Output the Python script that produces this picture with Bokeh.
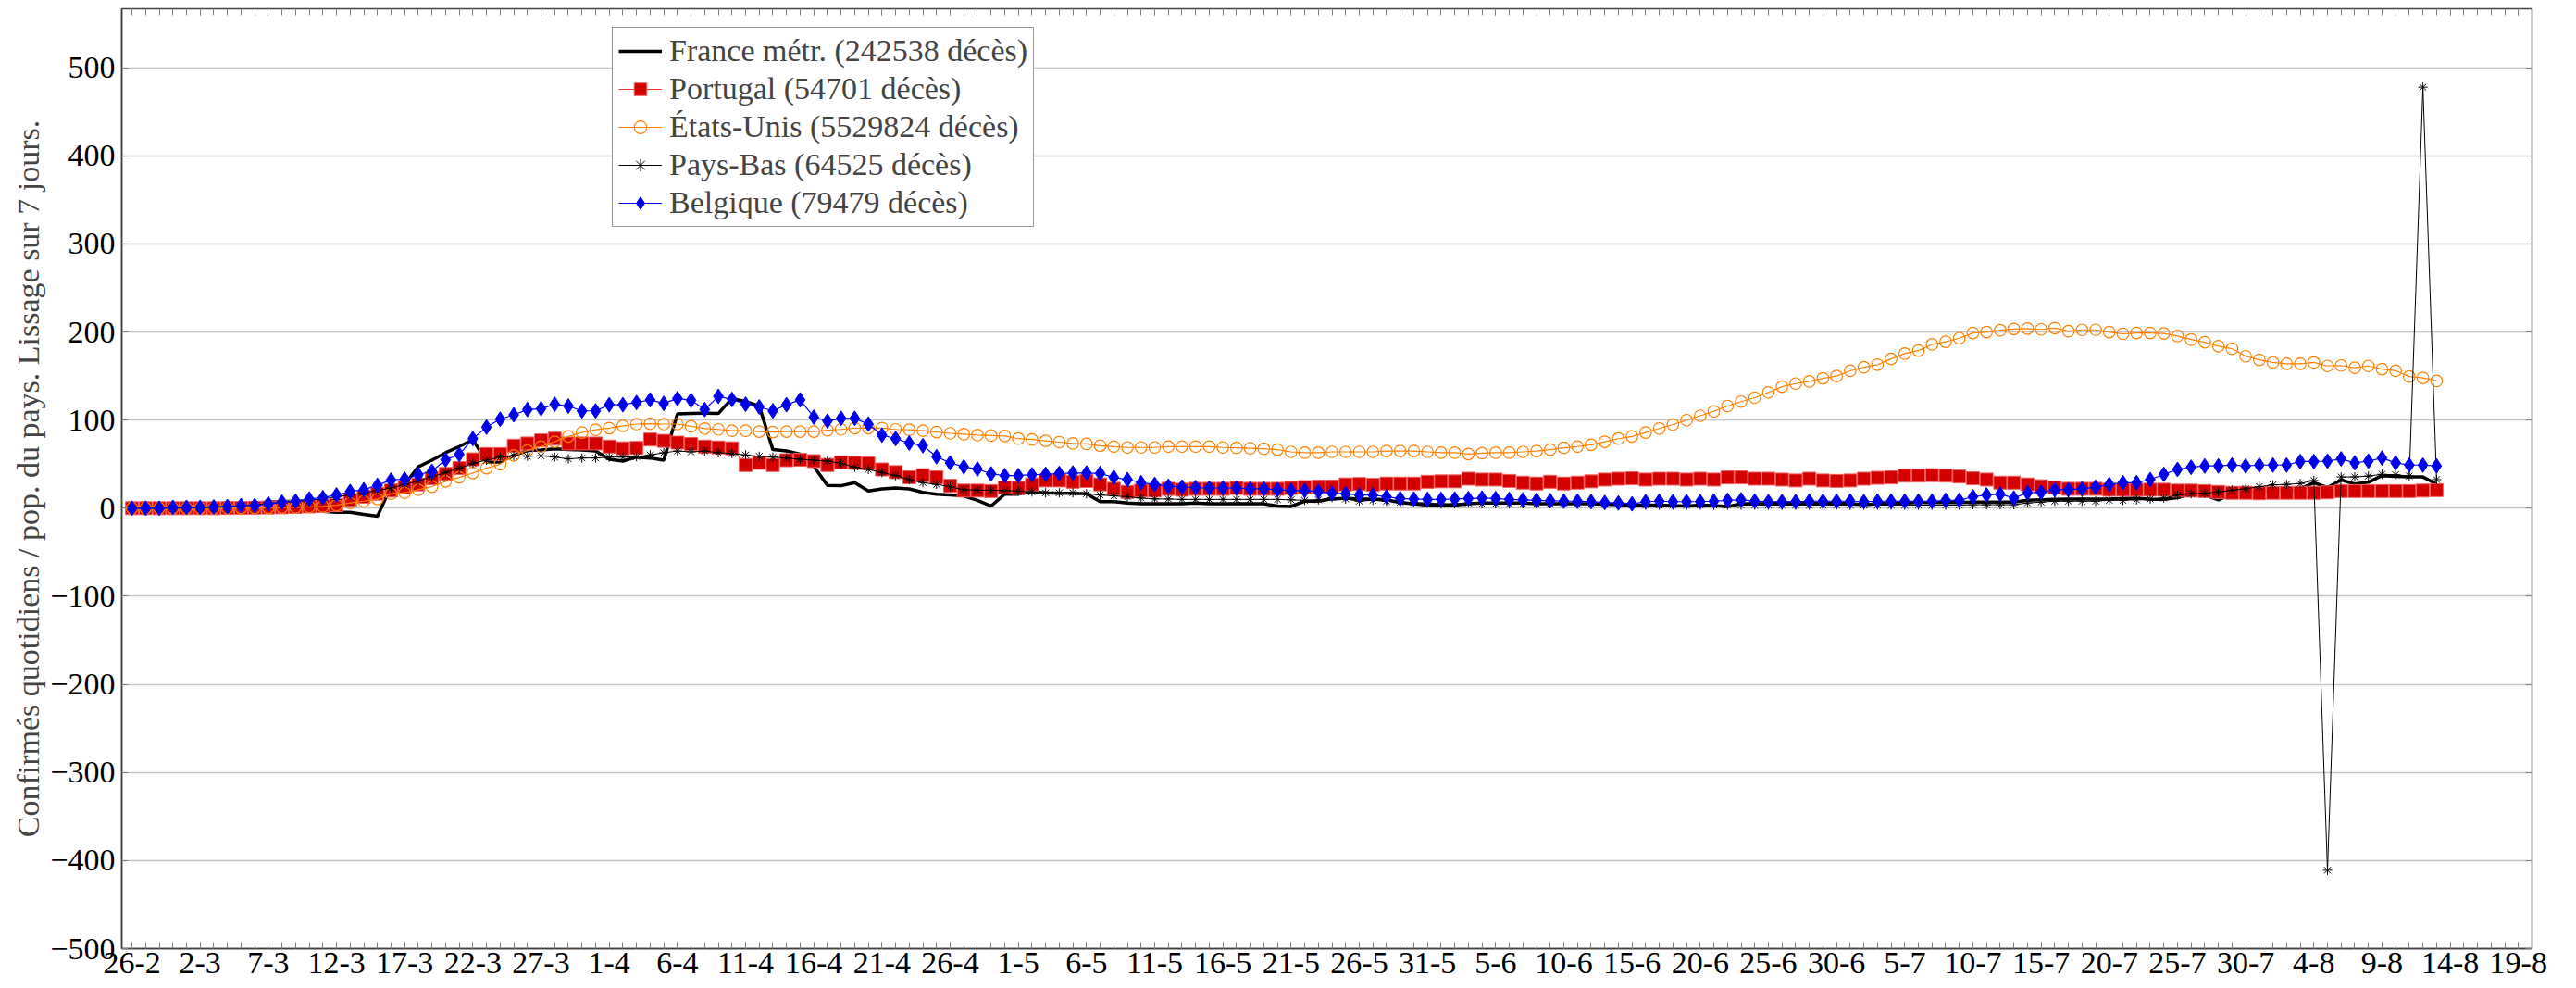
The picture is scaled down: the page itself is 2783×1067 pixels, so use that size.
from bokeh.plotting import figure
from bokeh.models import FixedTicker, LinearAxis, Legend, LegendItem, Range1d
from bokeh.embed import file_html
from bokeh.resources import INLINE

# ---- data (day index 0 = 26-2, daily until 13-8) ----
days = list(range(170))

x_tick_days = list(range(0, 176, 5))
x_tick_labels = ["26-2", "2-3", "7-3", "12-3", "17-3", "22-3", "27-3", "1-4", "6-4", "11-4",
                 "16-4", "21-4", "26-4", "1-5", "6-5", "11-5", "16-5", "21-5", "26-5", "31-5",
                 "5-6", "10-6", "15-6", "20-6", "25-6", "30-6", "5-7", "10-7", "15-7", "20-7",
                 "25-7", "30-7", "4-8", "9-8", "14-8", "19-8"]
y_ticks = [-500, -400, -300, -200, -100, 0, 100, 200, 300, 400, 500]
y_tick_labels = ["\u2212500", "\u2212400", "\u2212300", "\u2212200", "\u2212100", "0",
                 "100", "200", "300", "400", "500"]

france = [0, 0, 0.1, 0.2, 0.3, 0.5, 1, 1.5, 3, 5,
          7, 7.5, 8, 8, -3.5, -4.5, -4.5, -7, -9, 24.5,
          27, 47, 54.5, 63, 70, 78, 52.5, 52.5, 60, 65.5,
          66, 67.5, 66.5, 66, 65, 55.5, 53.5, 58, 57, 54.5,
          107, 107.5, 108, 107.5, 124.5, 121, 116, 66.5, 65, 61.5,
          47.5, 26, 25.5, 29, 19.5, 22, 23, 22, 18, 16,
          15, 14, 9, 2.5, 16, 16, 18.5, 17.5, 17, 17,
          16.5, 7.5, 7.5, 6, 5, 5, 5, 5, 6, 5,
          5, 5, 5, 5, 2.5, 2, 8, 8, 10.5, 11.5,
          10.5, 10.5, 9.5, 6.5, 5, 3.5, 3.5, 3.5, 5, 6,
          6, 6, 6, 5, 5, 5, 5, 5, 4.5, 4,
          3.5, 3.5, 3.5, 3, 2.5, 3.5, 3, 2, 5, 5,
          5, 6, 6, 6, 6, 6, 5, 4, 5, 6,
          6, 6.5, 6.5, 6.5, 6.5, 7, 7, 7, 7, 9,
          9.5, 10, 10.5, 10.5, 10.5, 10.5, 11, 11.5, 10, 10,
          12, 16, 15, 9.5, 16, 17.5, 18.5, 20, 21, 22,
          29, 23.5, 32, 27.5, 29.5, 37, 36, 35.5, 35.5, 27.5]

portugal = [0, 0, 0, 0, 0, 0, 0, 0.2, 0.3, 0.5,
            0.8, 1, 1.5, 2, 2.5, 3.5, 9.5, 13, 16.5, 20,
            23.5, 27, 34, 39, 45.5, 55.5, 61.5, 61.5, 71, 73.5,
            77, 79, 73.5, 73.5, 73.5, 70, 68, 68.5, 78, 76.5,
            74.5, 73, 70, 69, 68, 49, 51.5, 49, 54.5, 55,
            53.5, 49, 52, 51.5, 51, 44, 41, 35, 37.5, 35,
            25.5, 20, 20, 19.5, 23.5, 23, 27, 31.5, 31.5, 30,
            31, 27, 22, 18.5, 20, 20, 22, 21, 22, 22,
            22, 23, 22, 22, 22, 23, 24, 24.5, 24.5, 27,
            27.5, 26.5, 28, 28, 28, 30, 30.5, 30.5, 33.5, 32.5,
            32.5, 31, 29, 28, 30, 28, 29, 30.5, 32.5, 33.5,
            34, 32.5, 33.5, 33.5, 32.5, 33.5, 32.5, 35, 35, 33.5,
            33.5, 32.5, 31.5, 33.5, 31.5, 31, 31.5, 33.5, 34.5, 35,
            37, 37, 37.5, 37, 36, 34, 32.5, 29, 29, 27,
            25, 23.5, 22, 22, 22, 21, 21, 21, 21, 21,
            20, 20, 19.5, 18.5, 17.5, 17.5, 17, 17.5, 17.5, 17.5,
            17.5, 18, 19.5, 19.5, 19.5, 19.5, 19.5, 19.5, 20, 20.5]

usa = [0, 0, 0, 0, 0, 0, 0.1, 0.2, 0.3, 0.4,
       0.6, 0.8, 1, 1.5, 2, 3.5, 6, 8, 10.5, 16.5,
       17.5, 21, 24.5, 30.5, 35, 40, 45.5, 50, 60, 65.5,
       70, 75.5, 81.5, 86, 89, 91, 93.5, 95.5, 96, 95.5,
       95.5, 93, 90.5, 89.5, 88, 88, 87, 86.5, 87, 87,
       87, 88.5, 89.5, 91, 91, 91, 89.5, 89, 88, 86.5,
       85, 84, 83, 82.5, 82, 79, 78, 76.5, 75, 73.5,
       73, 71, 70, 69, 69, 69, 70, 70, 70, 70,
       69, 68.5, 68, 67.5, 66.5, 64, 63, 63, 64, 64,
       64, 64, 65, 65, 65, 64, 63, 63, 61.5, 62.5,
       63, 63, 64, 65, 66.5, 68.5, 70, 72, 75.5, 79,
       81.5, 86, 90.5, 95, 100, 105, 110, 116, 121, 125.5,
       131.5, 138, 141.5, 144, 147.5, 150, 156, 160, 163, 169.5,
       175.5, 179, 186, 189, 193, 199, 200, 202, 203.5, 204,
       203, 204.5, 201, 202.5, 202.5, 200, 198, 199, 199, 198.5,
       195.5, 191.5, 188.5, 184, 181, 172.5, 168.5, 165.5, 164, 164,
       165.5, 161.5, 162, 159.5, 161.5, 158, 156, 149.5, 148, 144.5]

paysbas = [0, 0, 0, 0, 0.2, 0.5, 1, 1.5, 2.5, 4,
           5, 7, 7.5, 9, 10.5, 13, 15, 17.5, 20, 23,
           27, 31, 36, 40.5, 45.5, 51, 54.5, 58, 59.5, 59,
           59.5, 58, 56, 57, 57, 58, 58, 58.5, 60.5, 63,
           65, 64, 65, 63, 62, 60.5, 59, 58, 57, 55.5,
           54.5, 53.5, 51, 46.5, 44, 40.5, 37, 32.5, 29, 27,
           24.5, 21, 20.5, 20.5, 20, 19.5, 18.5, 17.5, 17.5, 17.5,
           16.5, 15, 14, 13, 11.5, 10.5, 10.5, 10, 10, 10,
           10, 10, 10, 10, 10, 9.5, 9, 9.5, 12, 10.5,
           8, 9, 8, 7, 6.5, 6, 5, 5, 6, 5,
           5, 5, 5, 5, 5, 6, 5, 5, 4.5, 4.5,
           4, 3.5, 3.5, 3.5, 3.5, 3.5, 3.5, 3.5, 3.5, 3.5,
           3.5, 3.5, 3.5, 3.5, 3.5, 3.5, 3.5, 3.5, 3.5, 3.5,
           3.5, 3.5, 3.5, 3.5, 3.5, 4, 4, 4, 4, 6,
           7, 8, 8, 8, 8, 9, 9, 9.5, 10.5, 11.5,
           15, 16.5, 17, 18.5, 20.5, 22, 24.5, 26.5, 27, 28,
           31.5, -411, 35.5, 35.5, 36.5, 38.5, 38, 36.5, 478, 32.5]

belgique = [0, 0, 0, 1, 1, 1, 1.5, 2, 3, 3,
            5, 7, 8, 10.5, 12, 15, 19, 21, 26, 32,
            33, 38, 42, 55, 61, 79, 92, 101, 106, 112,
            113, 118, 116, 110.5, 110.5, 117.5, 117.5, 120, 123, 119,
            124.5, 122.5, 112, 127, 123.5, 118, 115, 110.5, 117.5, 123,
            103.5, 99, 102, 102, 95.5, 83, 79, 74, 71, 58.5,
            51.5, 47, 44.5, 39, 37, 37, 38, 38.5, 39.5, 40,
            40, 39.5, 35, 32.5, 29, 27, 25, 24, 23.5, 23,
            23, 23, 22, 22, 21, 20, 20, 19, 17, 16.5,
            15, 15, 13, 11, 10.5, 10, 10, 10.5, 11, 11.5,
            11, 10, 9.5, 9, 8.5, 8, 8, 7.5, 6.5, 6,
            5, 7.5, 8, 7.5, 7.5, 7.5, 8, 9, 9.5, 8,
            7.5, 7.5, 7.5, 8, 8, 8, 8, 7.5, 8, 8,
            8, 8, 8, 9, 9, 13, 15, 16, 11.5, 17.5,
            18, 21, 21, 22, 24, 27, 29, 29, 32.5, 38.5,
            44, 46.5, 48, 48, 49, 48, 49, 49, 49, 53,
            53, 53.5, 56, 51.5, 53.5, 57, 51.5, 49, 49, 48]

labels = ["France m\u00e9tr. (242538 d\u00e9c\u00e8s)",
          "Portugal (54701 d\u00e9c\u00e8s)",
          "\u00c9tats-Unis (5529824 d\u00e9c\u00e8s)",
          "Pays-Bas (64525 d\u00e9c\u00e8s)",
          "Belgique (79479 d\u00e9c\u00e8s)"]

FONT = "Liberation Serif"

p = figure(frame_width=2604, frame_height=1015, output_backend="svg", toolbar_location=None,
           x_range=Range1d(-0.75, 176.0), y_range=Range1d(-500, 567),
           min_border_left=131, min_border_right=48, min_border_top=9, min_border_bottom=43)
p.background_fill_color = "white"
p.border_fill_color = "white"
p.outline_line_color = "#404040"
p.outline_line_width = 1.5

xt = FixedTicker(ticks=x_tick_days, minor_ticks=list(range(0, 177)))
yt = FixedTicker(ticks=y_ticks, minor_ticks=[])

xa = p.xaxis[0]
xa.ticker = xt
xa.major_label_overrides = {d: s for d, s in zip(x_tick_days, x_tick_labels)}
ya = p.yaxis[0]
ya.ticker = yt
ya.major_label_overrides = {v: s for v, s in zip(y_ticks, y_tick_labels)}
ya.axis_label = "Confirm\u00e9s quotidiens / pop. du pays. Lissage sur 7 jours."
ya.axis_label_text_font = FONT
ya.axis_label_text_font_size = "34px"
ya.axis_label_text_font_style = "normal"
ya.axis_label_standoff = 2

for ax in (xa, ya):
    ax.major_label_text_font = FONT
    ax.major_label_text_font_size = "34px"
    ax.major_label_text_color = "black"
    ax.axis_line_color = "#404040"
    ax.axis_line_width = 1.5
    ax.major_tick_in = 7
    ax.major_tick_out = 0
    ax.minor_tick_in = 7
    ax.minor_tick_out = 0
    ax.major_tick_line_color = "#808080"
    ax.minor_tick_line_color = "#808080"
xa.major_label_standoff = 4
ya.major_label_standoff = 7

top = LinearAxis(ticker=xt, major_label_text_font_size="1px", major_label_text_color=None,
                 major_label_standoff=0,
                 major_tick_in=7, major_tick_out=0, minor_tick_in=7, minor_tick_out=0,
                 axis_line_color="#404040", major_tick_line_color="#808080",
                 minor_tick_line_color="#808080")
p.add_layout(top, "above")
right = LinearAxis(ticker=yt, major_label_text_font_size="1px", major_label_text_color=None,
                   major_label_standoff=0,
                   major_tick_in=7, major_tick_out=0, minor_tick_in=0, minor_tick_out=0,
                   axis_line_color="#404040", major_tick_line_color="#808080")
p.add_layout(right, "right")

p.xgrid.grid_line_color = None
p.ygrid.ticker = yt
p.ygrid.grid_line_color = "#c4c4c4"
p.ygrid.grid_line_width = 1.3

# France
r_fr = p.line(days, france, line_color="black", line_width=3.5)
# Portugal
r_pt_l = p.line(days, portugal, line_color="#ff3030", line_width=1.2)
r_pt_m = p.scatter(days, portugal, marker="square", size=14, fill_color="#d40000",
                   line_color="#f26060", line_width=1)
# USA
r_us_l = p.line(days, usa, line_color="#ff8000", line_width=1.2)
r_us_m = p.scatter(days, usa, marker="circle", size=12.5, fill_alpha=0,
                   line_color="#ff8000", line_width=1.2)
# Pays-Bas
r_nl_l = p.line(days, paysbas, line_color="black", line_width=1.0)
r_nl_m = p.scatter(days, paysbas, marker="asterisk", size=10, line_color="black", line_width=1.0)
# Belgique
r_be_l = p.line(days, belgique, line_color="#0000ff", line_width=1.2)
r_be_m = p.scatter(days, belgique, marker="diamond", size=16, fill_color="#0000e6",
                   line_color="#0000ff", line_width=1)

legend = Legend(items=[
    LegendItem(label=labels[0], renderers=[r_fr]),
    LegendItem(label=labels[1], renderers=[r_pt_l, r_pt_m]),
    LegendItem(label=labels[2], renderers=[r_us_l, r_us_m]),
    LegendItem(label=labels[3], renderers=[r_nl_l, r_nl_m]),
    LegendItem(label=labels[4], renderers=[r_be_l, r_be_m]),
], location=(530, 779))
legend.label_text_font = FONT
legend.label_text_font_size = "34px"
legend.label_height = 34
legend.glyph_height = 34
legend.glyph_width = 47
legend.label_standoff = 8
legend.spacing = 3
legend.padding = 6
legend.margin = 0
legend.border_line_color = "#333333"
legend.border_line_width = 1.5
legend.background_fill_color = "white"
legend.background_fill_alpha = 1.0
p.add_layout(legend, "center")

open("out.html", "w").write(file_html(p, INLINE))
